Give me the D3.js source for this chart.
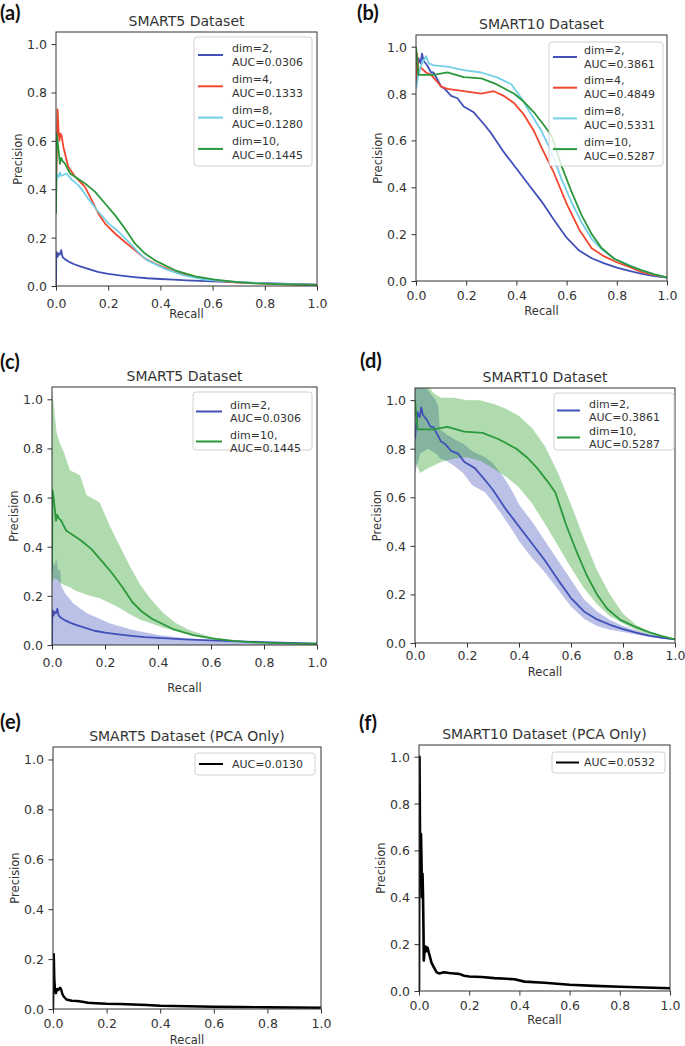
<!DOCTYPE html>
<html><head><meta charset="utf-8">
<script src="https://cdn.jsdelivr.net/npm/d3@7"></script>
<style>body{margin:0;background:#fff} svg{display:block}</style>
</head><body>
<svg id="fig" width="685" height="1046"></svg>
<script>
// ---------------- DATA (recall, precision) ----------------
const tickValues = [0, 0.2, 0.4, 0.6, 0.8, 1.0];

const smart5_dim2 = [[0,0],[0.001,0.12],[0.003,0.14],[0.006,0.12],[0.01,0.135],[0.015,0.13],[0.02,0.148],[0.025,0.12],[0.035,0.11],[0.05,0.10],[0.07,0.09],[0.09,0.082],[0.12,0.072],[0.16,0.058],[0.2,0.05],[0.25,0.043],[0.3,0.037],[0.35,0.032],[0.4,0.029],[0.45,0.026],[0.5,0.023],[0.6,0.019],[0.7,0.015],[0.8,0.012],[0.9,0.009],[1.0,0.006]];
const smart5_dim4 = [[0,0.35],[0.006,0.73],[0.01,0.64],[0.013,0.60],[0.017,0.63],[0.022,0.62],[0.028,0.576],[0.047,0.493],[0.073,0.452],[0.111,0.41],[0.137,0.355],[0.162,0.30],[0.188,0.258],[0.226,0.217],[0.264,0.182],[0.303,0.148],[0.341,0.113],[0.379,0.093],[0.456,0.058],[0.533,0.037],[0.609,0.023],[0.686,0.015],[0.8,0.01],[0.9,0.007],[1.0,0.005]];
const smart5_dim8 = [[0,0.3],[0.002,0.44],[0.006,0.46],[0.01,0.45],[0.015,0.47],[0.02,0.455],[0.03,0.46],[0.04,0.465],[0.06,0.44],[0.085,0.417],[0.105,0.39],[0.124,0.36],[0.16,0.31],[0.2,0.26],[0.24,0.224],[0.28,0.18],[0.315,0.14],[0.35,0.106],[0.42,0.07],[0.49,0.044],[0.57,0.026],[0.65,0.02],[0.76,0.013],[0.85,0.009],[0.93,0.007],[1.0,0.005]];
const smart5_dim10 = [[0,0.3],[0.002,0.63],[0.006,0.60],[0.011,0.55],[0.015,0.505],[0.02,0.53],[0.026,0.515],[0.034,0.507],[0.054,0.465],[0.073,0.452],[0.111,0.424],[0.149,0.39],[0.188,0.341],[0.226,0.293],[0.264,0.238],[0.303,0.175],[0.341,0.134],[0.379,0.106],[0.456,0.065],[0.533,0.04],[0.609,0.026],[0.686,0.017],[0.762,0.011],[0.85,0.008],[0.93,0.006],[1.0,0.005]];

const smart10_dim2 = [[0,0.84],[0.005,0.9],[0.01,0.95],[0.018,0.93],[0.024,0.97],[0.03,0.94],[0.045,0.92],[0.06,0.89],[0.07,0.89],[0.085,0.86],[0.1,0.83],[0.115,0.82],[0.14,0.79],[0.165,0.78],[0.19,0.745],[0.23,0.72],[0.27,0.67],[0.3,0.63],[0.35,0.55],[0.4,0.48],[0.45,0.41],[0.5,0.34],[0.55,0.26],[0.6,0.185],[0.65,0.13],[0.7,0.097],[0.75,0.075],[0.8,0.057],[0.85,0.043],[0.9,0.03],[0.95,0.021],[1.0,0.015]];
const smart10_dim4 = [[0,0.85],[0.004,0.97],[0.01,0.90],[0.02,0.91],[0.04,0.89],[0.06,0.88],[0.085,0.85],[0.1,0.83],[0.125,0.82],[0.19,0.81],[0.26,0.80],[0.31,0.81],[0.35,0.79],[0.39,0.76],[0.43,0.71],[0.47,0.64],[0.5,0.57],[0.55,0.46],[0.6,0.33],[0.65,0.22],[0.7,0.14],[0.75,0.105],[0.8,0.08],[0.85,0.06],[0.9,0.038],[0.95,0.025],[1.0,0.015]];
const smart10_dim8 = [[0,0.82],[0.01,0.88],[0.02,0.92],[0.03,0.94],[0.04,0.96],[0.05,0.93],[0.07,0.92],[0.125,0.915],[0.19,0.90],[0.26,0.89],[0.32,0.87],[0.38,0.84],[0.42,0.78],[0.46,0.71],[0.5,0.64],[0.54,0.55],[0.58,0.435],[0.62,0.335],[0.66,0.25],[0.70,0.18],[0.74,0.135],[0.79,0.095],[0.85,0.068],[0.9,0.045],[0.95,0.028],[1.0,0.015]];
const smart10_dim10 = [[0,1.0],[0.004,0.95],[0.01,0.88],[0.03,0.88],[0.07,0.88],[0.125,0.89],[0.19,0.87],[0.26,0.865],[0.32,0.84],[0.39,0.80],[0.43,0.765],[0.47,0.72],[0.51,0.665],[0.54,0.62],[0.58,0.49],[0.62,0.38],[0.66,0.28],[0.70,0.20],[0.74,0.14],[0.79,0.095],[0.85,0.065],[0.9,0.045],[0.95,0.028],[1.0,0.015]];

// bands: [recall, lower, upper]
const smart5_dim2_band = [[0,0,0.35],[0.01,0,0.32],[0.016,0,0.35],[0.023,0,0.30],[0.03,0,0.31],[0.035,0,0.24],[0.05,0,0.21],[0.08,0,0.17],[0.13,0,0.13],[0.22,0,0.088],[0.305,0,0.061],[0.406,0,0.04],[0.507,0,0.027],[0.68,0,0.014],[0.85,0,0.008],[1.0,0,0.005]];
const smart5_dim10_band = [[0,0.26,1.04],[0.008,0.27,0.96],[0.018,0.27,0.86],[0.03,0.255,0.82],[0.043,0.245,0.79],[0.068,0.235,0.71],[0.09,0.22,0.70],[0.106,0.215,0.69],[0.13,0.205,0.61],[0.18,0.19,0.58],[0.2,0.18,0.53],[0.22,0.17,0.48],[0.257,0.15,0.40],[0.294,0.125,0.32],[0.33,0.105,0.25],[0.37,0.09,0.19],[0.42,0.07,0.13],[0.47,0.056,0.088],[0.52,0.042,0.06],[0.6,0.027,0.033],[0.68,0.017,0.019],[0.8,0.009,0.011],[1.0,0.004,0.006]];
const smart10_dim2_band = [[0,0.70,1.1],[0.02,0.78,1.08],[0.05,0.80,1.04],[0.08,0.78,1.0],[0.09,0.77,0.97],[0.095,0.76,0.88],[0.12,0.75,0.86],[0.15,0.73,0.84],[0.185,0.70,0.82],[0.22,0.65,0.79],[0.27,0.62,0.765],[0.3,0.58,0.74],[0.34,0.52,0.685],[0.377,0.46,0.62],[0.4,0.42,0.57],[0.45,0.35,0.50],[0.5,0.29,0.42],[0.55,0.22,0.34],[0.6,0.15,0.26],[0.65,0.10,0.18],[0.7,0.07,0.13],[0.75,0.055,0.095],[0.8,0.045,0.07],[0.9,0.025,0.035],[1.0,0.012,0.014]];
const smart10_dim10_band = [[0,0.75,1.1],[0.02,0.70,1.1],[0.05,0.72,1.06],[0.07,0.73,1.03],[0.1,0.745,1.01],[0.15,0.76,1.01],[0.2,0.765,1.0],[0.25,0.75,1.0],[0.3,0.72,0.985],[0.35,0.685,0.965],[0.4,0.64,0.935],[0.45,0.575,0.885],[0.5,0.49,0.81],[0.55,0.40,0.70],[0.6,0.31,0.57],[0.65,0.225,0.43],[0.7,0.16,0.30],[0.75,0.11,0.20],[0.8,0.08,0.12],[0.85,0.055,0.075],[0.9,0.035,0.045],[0.95,0.022,0.028],[1.0,0.012,0.016]];

const pca_smart5 = [[0,0],[0.003,0.22],[0.005,0.12],[0.008,0.07],[0.011,0.063],[0.015,0.08],[0.02,0.076],[0.026,0.085],[0.03,0.08],[0.035,0.06],[0.04,0.05],[0.05,0.038],[0.07,0.033],[0.09,0.032],[0.11,0.029],[0.13,0.025],[0.16,0.023],[0.2,0.021],[0.25,0.02],[0.3,0.018],[0.35,0.016],[0.4,0.013],[0.5,0.011],[0.6,0.009],[0.7,0.008],[0.8,0.007],[0.9,0.006],[1.0,0.005]];
const pca_smart10 = [[0,0],[0.002,1.0],[0.004,0.65],[0.006,0.5],[0.008,0.67],[0.01,0.55],[0.012,0.40],[0.014,0.5],[0.016,0.41],[0.018,0.25],[0.019,0.13],[0.022,0.17],[0.026,0.19],[0.03,0.17],[0.034,0.185],[0.04,0.16],[0.045,0.14],[0.05,0.12],[0.06,0.10],[0.07,0.08],[0.08,0.075],[0.1,0.08],[0.12,0.077],[0.14,0.075],[0.16,0.073],[0.18,0.065],[0.2,0.062],[0.25,0.06],[0.3,0.055],[0.35,0.052],[0.38,0.05],[0.42,0.04],[0.5,0.035],[0.6,0.027],[0.7,0.022],[0.8,0.018],[0.9,0.015],[1.0,0.012]];

const auc_smart5 = {dim2:"0.0306", dim4:"0.1333", dim8:"0.1280", dim10:"0.1445"};
const auc_smart10 = {dim2:"0.3861", dim4:"0.4849", dim8:"0.5331", dim10:"0.5287"};
const auc_pca = ["0.0130", "0.0532"];

// ---------------- STYLE / LAYOUT ----------------
const COLOR = {dim2:"#4150b9", dim4:"#f2472f", dim8:"#74cfe6", dim10:"#2a983b", pca:"#000"};
const BAND = {dim2:"#4150b9", dim10:"#2ca02c"};
const FONT = "'DejaVu Sans', sans-serif";

const panels = [
 {tag:"(a)", tx:0, ty:20, title:"SMART5 Dataset", L:56, R:317, T:32, B:286, xtDy:17.5, xlDy:28,
  bands:[], lines:[["dim2",smart5_dim2,"dim=2,"],["dim4",smart5_dim4,"dim=4,"],["dim8",smart5_dim8,"dim=8,"],["dim10",smart5_dim10,"dim=10,"]],
  auc:auc_smart5, lw:1.8,
  lg:{x:194,y:37,w:118,h:129,l0:198,l1:223,tx:232,y0:48,step:31.3,gap:14}},
 {tag:"(b)", tx:357, ty:20, title:"SMART10 Dataset", L:416, R:667, T:35, B:281, xtDy:14, xlDy:30,
  bands:[], lines:[["dim2",smart10_dim2,"dim=2,"],["dim4",smart10_dim4,"dim=4,"],["dim8",smart10_dim8,"dim=8,"],["dim10",smart10_dim10,"dim=10,"]],
  auc:auc_smart10, lw:1.8,
  lg:{x:549,y:42,w:114,h:124,l0:553,l1:577,tx:584,y0:50,step:30.7,gap:14}},
 {tag:"(c)", tx:0, ty:369, title:"SMART5 Dataset", L:52, R:317, T:387, B:645, xtDy:17, xlDy:43,
  bands:[["dim2",smart5_dim2_band],["dim10",smart5_dim10_band]],
  lines:[["dim2",smart5_dim2,"dim=2,"],["dim10",smart5_dim10,"dim=10,"]],
  auc:auc_smart5, lw:1.8,
  lg:{x:193,y:392,w:119,h:58,l0:196,l1:222,tx:230,y0:405,step:30,gap:13}},
 {tag:"(d)", tx:360, ty:368, title:"SMART10 Dataset", L:415, R:675, T:388, B:643, xtDy:12.5, xlDy:29,
  bands:[["dim2",smart10_dim2_band],["dim10",smart10_dim10_band]],
  lines:[["dim2",smart10_dim2,"dim=2,"],["dim10",smart10_dim10,"dim=10,"]],
  auc:auc_smart10, lw:1.8,
  lg:{x:554,y:393,w:120,h:57,l0:557,l1:580,tx:589,y0:404,step:27,gap:13}},
 {tag:"(e)", tx:0, ty:729, title:"SMART5 Dataset (PCA Only)", L:53, R:321, T:747, B:1009, xtDy:14, xlDy:31,
  bands:[], lines:[["pca",pca_smart5,null]], aucText:"AUC="+auc_pca[0], lw:2.4,
  lg:{x:195,y:753,w:120,h:22,l0:199,l1:223,tx:232,y0:764}},
 {tag:"(f)", tx:359, ty:730, title:"SMART10 Dataset (PCA Only)", L:419, R:670, T:745, B:991, xtDy:14, xlDy:29,
  bands:[], lines:[["pca",pca_smart10,null]], aucText:"AUC="+auc_pca[1], lw:2.6,
  lg:{x:552,y:752,w:113,h:21,l0:556,l1:579,tx:584,y0:762.5}}
];

const svg = d3.select("#fig");
svg.append("rect").attr("width",685).attr("height",1046).attr("fill","#fff");

panels.forEach((p, i) => {
  const x = d3.scaleLinear().domain([0,1]).range([p.L, p.R]);
  const y = d3.scaleLinear().domain([0,1.05]).range([p.B, p.T]);
  const g = svg.append("g");
  const cid = "clip" + i;
  svg.append("clipPath").attr("id", cid).append("rect")
     .attr("x", p.L).attr("y", p.T).attr("width", p.R - p.L).attr("height", p.B - p.T);

  const plot = g.append("g").attr("clip-path", `url(#${cid})`);
  const area = d3.area().x(d => x(d[0])).y0(d => y(d[1])).y1(d => y(d[2]));
  p.bands.forEach(([k, data]) => {
    plot.append("path").attr("d", area(data)).attr("fill", BAND[k]).attr("fill-opacity", k==="dim10"?0.38:0.36).attr("stroke","none");
  });
  const line = d3.line().x(d => x(d[0])).y(d => y(d[1]));
  p.lines.forEach(([k, data]) => {
    plot.append("path").attr("d", line(data)).attr("fill","none")
      .attr("stroke", COLOR[k]).attr("stroke-width", p.lw).attr("stroke-linejoin","round");
  });

  // axes
  const xa = d3.axisBottom(x).tickValues(tickValues).tickFormat(d3.format(".1f")).tickSize(4.5).tickPadding(3);
  const ya = d3.axisLeft(y).tickValues(tickValues).tickFormat(d3.format(".1f")).tickSize(4.5).tickPadding(4.5);
  const gx = g.append("g").attr("transform", `translate(0,${p.B})`).call(xa);
  const gy = g.append("g").attr("transform", `translate(${p.L},0)`).call(ya);
  [gx, gy].forEach(a => {
    a.select(".domain").remove();
    a.selectAll(".tick line").attr("stroke","#333");
    a.selectAll(".tick text").attr("fill","#333").style("font-family",FONT).style("font-size","12.5px");
  });
  gx.selectAll(".tick text").attr("dy", null).attr("y", p.xtDy).attr("dominant-baseline","central");
  gy.selectAll(".tick text").attr("dy", null).attr("dominant-baseline","central");

  g.append("rect").attr("x", p.L).attr("y", p.T).attr("width", p.R - p.L).attr("height", p.B - p.T)
    .attr("fill","none").attr("stroke","#333").attr("stroke-width",1);

  // labels
  g.append("text").attr("x", (p.L + p.R)/2).attr("y", p.T - 6).attr("text-anchor","middle")
    .style("font-family",FONT).style("font-size","14px").attr("fill","#333").text(p.title);
  g.append("text").attr("x", (p.L + p.R)/2).attr("y", p.B + p.xlDy).attr("text-anchor","middle")
    .attr("dominant-baseline","central").style("font-family",FONT).style("font-size","11.5px").attr("fill","#333").text("Recall");
  g.append("text").attr("transform", `translate(${p.L - 38},${(p.T + p.B)/2}) rotate(-90)`)
    .attr("text-anchor","middle").attr("dominant-baseline","central")
    .style("font-family",FONT).style("font-size","11.5px").attr("fill","#333").text("Precision");
  g.append("text").attr("x", p.tx).attr("y", p.ty).style("font-family","Lato, 'Open Sans', sans-serif")
    .style("font-weight","bold").style("font-size","20px").attr("fill","#111").text(p.tag);

  // legend
  const lg = p.lg;
  const leg = g.append("g");
  leg.append("rect").attr("x", lg.x).attr("y", lg.y).attr("width", lg.w).attr("height", lg.h)
    .attr("rx",3).attr("fill","#fff").attr("fill-opacity",0.8).attr("stroke","#d0d0d0");
  if (p.aucText) {
    leg.append("line").attr("x1", lg.l0).attr("x2", lg.l1).attr("y1", lg.y0).attr("y2", lg.y0)
      .attr("stroke","#000").attr("stroke-width",2);
    leg.append("text").attr("x", lg.tx).attr("y", lg.y0).attr("dominant-baseline","central")
      .style("font-family",FONT).style("font-size","11px").attr("fill","#333").text(p.aucText);
  } else {
    p.lines.forEach(([k, data, name], j) => {
      const y1 = lg.y0 + j*lg.step, y2 = y1 + lg.gap;
      leg.append("line").attr("x1", lg.l0).attr("x2", lg.l1).attr("y1", (y1+y2)/2).attr("y2", (y1+y2)/2)
        .attr("stroke", COLOR[k]).attr("stroke-width", 2);
      leg.append("text").attr("x", lg.tx).attr("y", y1).attr("dominant-baseline","central")
        .style("font-family",FONT).style("font-size","11px").attr("fill","#333").text(name);
      leg.append("text").attr("x", lg.tx).attr("y", y2).attr("dominant-baseline","central")
        .style("font-family",FONT).style("font-size","11px").attr("fill","#333").text("AUC=" + p.auc[k]);
    });
  }
});
</script>
</body></html>
